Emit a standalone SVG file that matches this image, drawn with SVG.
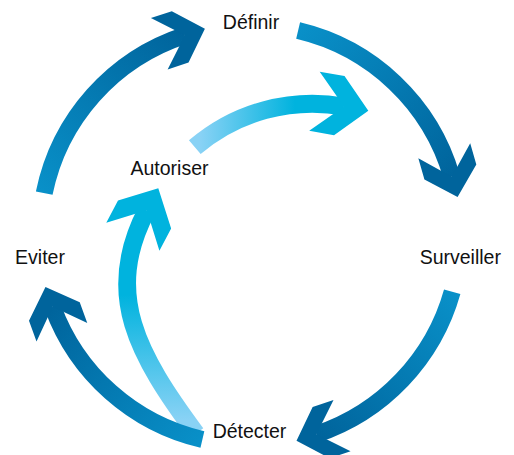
<svg xmlns="http://www.w3.org/2000/svg" xmlns:xlink="http://www.w3.org/1999/xlink" width="514" height="455" viewBox="0 0 514 455">
  <style>
    .label { font-family: "Liberation Sans", Arial, Helvetica, sans-serif; font-size: 19.5px; fill: #111111; text-anchor: middle; }
    .outer { fill: none; stroke-width: 17; stroke-linecap: butt; }
    .inner { fill: none; stroke-width: 18; stroke-linecap: butt; }
    .dark { fill: #00649c; }
    .cyan { fill: #00b3de; }
  </style>
  <defs>
    <!-- chevron heads, origin at the notch, pointing along +x -->
    <polygon id="headOuter" points="21,0 -5,27 -27,27 0,0 -27,-27 -5,-27"/>
    <polygon id="headInner" points="24.7,0 -4.8,30 -30,30 0,0 -30,-30 -4.8,-30"/>
    <linearGradient id="gA" gradientUnits="userSpaceOnUse" x1="44.22" y1="193.13" x2="184.93" y2="35.34">
      <stop offset="0" stop-color="#0990c8"/><stop offset="1" stop-color="#00649c"/>
    </linearGradient>
    <linearGradient id="gB" gradientUnits="userSpaceOnUse" x1="298.13" y1="30.59" x2="451.76" y2="176.76">
      <stop offset="0" stop-color="#0990c8"/><stop offset="1" stop-color="#00649c"/>
    </linearGradient>
    <linearGradient id="gC" gradientUnits="userSpaceOnUse" x1="452.2" y1="291.69" x2="316.43" y2="434.21">
      <stop offset="0" stop-color="#0990c8"/><stop offset="1" stop-color="#00649c"/>
    </linearGradient>
    <linearGradient id="gD" gradientUnits="userSpaceOnUse" x1="202.4" y1="439.54" x2="52.66" y2="306.82">
      <stop offset="0" stop-color="#0990c8"/><stop offset="1" stop-color="#00649c"/>
    </linearGradient>
    <linearGradient id="gE" gradientUnits="userSpaceOnUse" x1="0" y1="420" x2="0" y2="295">
      <stop offset="0" stop-color="#89d2f5"/><stop offset="1" stop-color="#00b3de"/>
    </linearGradient>
    <linearGradient id="gF" gradientUnits="userSpaceOnUse" x1="200" y1="0" x2="295" y2="0">
      <stop offset="0" stop-color="#89d2f5"/><stop offset="1" stop-color="#00b3de"/>
    </linearGradient>
  </defs>
  <rect width="514" height="455" fill="#ffffff"/>

  <g id="connectors">
    <!-- inner cycle: Détecter -> Autoriser -> Surveiller side -->
    <g id="detecter-autoriser">
      <path class="inner" stroke="url(#gE)" d="M196,433.6 C138.4,355.6 102.6,294.3 146.8,210.2"/>
      <use xlink:href="#headInner" href="#headInner" class="cyan" transform="translate(146.8,210.2) rotate(-62.3)"/>
    </g>
    <g id="autoriser-surveiller">
      <path class="inner" stroke="url(#gF)" d="M194.8,147.2 A180.7,180.7 0 0 1 344,106.5"/>
      <use xlink:href="#headInner" href="#headInner" class="cyan" transform="translate(344,106.5) rotate(10.07)"/>
    </g>
    <!-- outer cycle -->
    <g id="eviter-definir">
      <path class="outer" stroke="url(#gA)" d="M44.22,193.13 A210,210 0 0 1 184.93,35.34"/>
      <use xlink:href="#headOuter" href="#headOuter" class="dark" transform="translate(184.93,35.34) rotate(-18.05)"/>
    </g>
    <g id="definir-surveiller">
      <path class="outer" stroke="url(#gB)" d="M298.13,30.59 A210,210 0 0 1 451.76,176.76"/>
      <use xlink:href="#headOuter" href="#headOuter" class="dark" transform="translate(451.76,176.76) rotate(73.9)"/>
    </g>
    <g id="surveiller-detecter">
      <path class="outer" stroke="url(#gC)" d="M452.2,291.69 A210,210 0 0 1 316.43,434.21"/>
      <use xlink:href="#headOuter" href="#headOuter" class="dark" transform="translate(316.43,434.21) rotate(161.56)"/>
    </g>
    <g id="detecter-eviter">
      <path class="outer" stroke="url(#gD)" d="M202.4,439.54 A210,210 0 0 1 52.66,306.82"/>
      <use xlink:href="#headOuter" href="#headOuter" class="dark" transform="translate(52.66,306.82) rotate(250)"/>
    </g>
  </g>

  <g id="node-definir"><text class="label" x="251" y="29">Définir</text></g>
  <g id="node-surveiller"><text class="label" x="460.3" y="264">Surveiller</text></g>
  <g id="node-detecter"><text class="label" x="249.5" y="437.5">Détecter</text></g>
  <g id="node-eviter"><text class="label" x="40" y="264">Eviter</text></g>
  <g id="node-autoriser"><text class="label" x="169.5" y="175">Autoriser</text></g>
</svg>
